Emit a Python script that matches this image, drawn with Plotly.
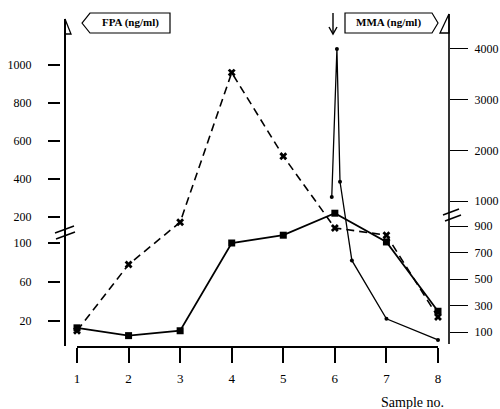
import plotly.graph_objects as go

# ---------------- data ----------------
samples = [1, 2, 3, 4, 5, 6, 7, 8]
fpa_dashed = [10, 78, 180, 960, 520, 158, 130, 24]        # dashed line, x markers (left axis)
fpa_solid = [13, 5, 10, 100, 130, 220, 104, 30]           # solid line, square markers (left axis)
mma_x = [5.94, 6.04, 6.10, 6.33, 7, 8]                    # thin line, dots (right axis)
mma_vals = [1080, 4000, 1380, 640, 200, 40]

left_ticks = [20, 60, 100, 200, 400, 600, 800, 1000]
right_ticks = [100, 300, 500, 700, 900, 1000, 2000, 3000, 4000]
x_ticks = [1, 2, 3, 4, 5, 6, 7, 8]

# ---------------- broken-axis scales ----------------
def left_scale(v):
    if v <= 100:
        return 26 + (v - 20) * 0.975
    if v <= 200:
        return 104 + (v - 100) * 0.26
    return 130 + (v - 200) * 0.19

def right_scale(v):
    if v <= 900:
        return 15 + (v - 100) * 0.1325
    if v <= 1000:
        return 121 + (v - 900) * 0.25
    return 146 + (v - 1000) * 0.05067

# pixel -> paper helpers for decorations
L, R, T, B = 61, 449, 15, 347
W, H = 500, 409
def px(x):
    return (x - L) / (R - L)
def py(y):
    return (B - y) / (B - T)

SERIF = "Liberation Serif, Times New Roman, serif"

fig = go.Figure()

fig.add_trace(go.Scatter(
    x=samples, y=[left_scale(v) for v in fpa_dashed], mode="lines+markers",
    line=dict(color="black", width=1.6, dash="8px,5px"),
    marker=dict(symbol="x", size=7, color="black"), yaxis="y", showlegend=False))

fig.add_trace(go.Scatter(
    x=samples, y=[left_scale(v) for v in fpa_solid], mode="lines+markers",
    line=dict(color="black", width=1.8),
    marker=dict(symbol="square", size=7, color="black"), yaxis="y", showlegend=False))

fig.add_trace(go.Scatter(
    x=mma_x, y=[right_scale(v) for v in mma_vals], mode="lines+markers",
    line=dict(color="black", width=1.3),
    marker=dict(symbol="circle", size=4, color="black"), yaxis="y2", showlegend=False))

x_lo = 1 - 16 / 51.57
x_hi = 8 + 11 / 51.57

fig.update_layout(
    width=W, height=H, autosize=False,
    margin=dict(l=L, r=W - R, t=T, b=H - B, pad=0, autoexpand=False),
    paper_bgcolor="white", plot_bgcolor="white",
    font=dict(family=SERIF, color="black", size=12),
    xaxis=dict(range=[x_lo, x_hi], showgrid=False, zeroline=False, showline=False,
               automargin=False,
               tickmode="array", tickvals=x_ticks, ticktext=[str(v) for v in x_ticks],
               ticks="outside", ticklen=15, tickwidth=1.5, tickcolor="black",
               ticklabelstandoff=4, tickfont=dict(size=13, family=SERIF)),
    yaxis=dict(range=[0, B - T], showgrid=False, zeroline=False, showline=False,
               automargin=False,
               tickmode="array", tickvals=[left_scale(v) for v in left_ticks],
               ticktext=[str(v) for v in left_ticks],
               ticks="outside", ticklen=12, tickwidth=1.5, tickcolor="black",
               ticklabelstandoff=14, tickfont=dict(size=12, family=SERIF)),
    yaxis2=dict(range=[0, B - T], overlaying="y", side="right", showgrid=False,
                zeroline=False, showline=False, automargin=False,
                tickmode="array", tickvals=[right_scale(v) for v in right_ticks],
                ticktext=[str(v) for v in right_ticks],
                ticks="outside", ticklen=18, tickwidth=1.3, tickcolor="black",
                ticklabelstandoff=4, tickfont=dict(size=12, family=SERIF)),
)

shapes = []
def line(x0, y0, x1, y1, w=1.8):
    shapes.append(dict(type="line", xref="paper", yref="paper",
                       x0=px(x0), y0=py(y0), x1=px(x1), y1=py(y1),
                       line=dict(color="black", width=w)))
def path(points, close=True, w=1.3):
    d = "M " + " L ".join(f"{px(a):.5f},{py(b):.5f}" for a, b in points)
    if close:
        d += " Z"
    shapes.append(dict(type="path", xref="paper", yref="paper", path=d,
                       line=dict(color="black", width=w), fillcolor="rgba(0,0,0,0)"))

# axis lines
line(65, 19, 65, 346, 2)           # left axis
line(449, 14, 449, 344, 1.6)       # right axis
shapes.append(dict(type="line", xref="x", yref="paper", x0=1, x1=8, y0=0, y1=0,
                   line=dict(color="black", width=2)))   # x axis line
# open triangles at top of axes
path([(65, 19), (71, 34), (65, 34)])
path([(449, 14), (440, 33), (449, 33)])
# break marks
line(55, 233, 74, 226, 1.5)
line(56, 239, 75, 232, 1.5)
line(443, 215, 459, 209, 1.5)
line(445, 221, 461, 215, 1.5)
# label boxes
path([(82, 23), (90, 13), (170, 13), (170, 33), (90, 33)], w=1.2)
path([(345, 13), (432, 13), (438, 23), (432, 33), (345, 33)], w=1.2)
# down arrow
line(333, 13, 333, 34, 1.4)
path([(329, 27), (333, 34), (337, 27)], close=False, w=1.4)

fig.update_layout(shapes=shapes)

annotations = [
    dict(text="<b>FPA (ng/ml)</b>", x=px(130), y=py(23), xref="paper", yref="paper",
         showarrow=False, xanchor="center", yanchor="middle",
         font=dict(size=11, family=SERIF, color="black")),
    dict(text="<b>MMA (ng/ml)</b>", x=px(388), y=py(23), xref="paper", yref="paper",
         showarrow=False, xanchor="center", yanchor="middle",
         font=dict(size=11, family=SERIF, color="black")),
    dict(text="Sample no.", x=px(412), y=py(402), xref="paper", yref="paper",
         showarrow=False, xanchor="center", yanchor="middle",
         font=dict(size=14, family=SERIF, color="black")),
]
fig.update_layout(annotations=annotations)

fig.write_html("out.html",
               config={"displayModeBar": False, "responsive": False},
               post_script=("document.documentElement.style.overflow='hidden';"
                            "document.body.style.margin='0';"
                            "document.body.style.overflow='hidden';"))
